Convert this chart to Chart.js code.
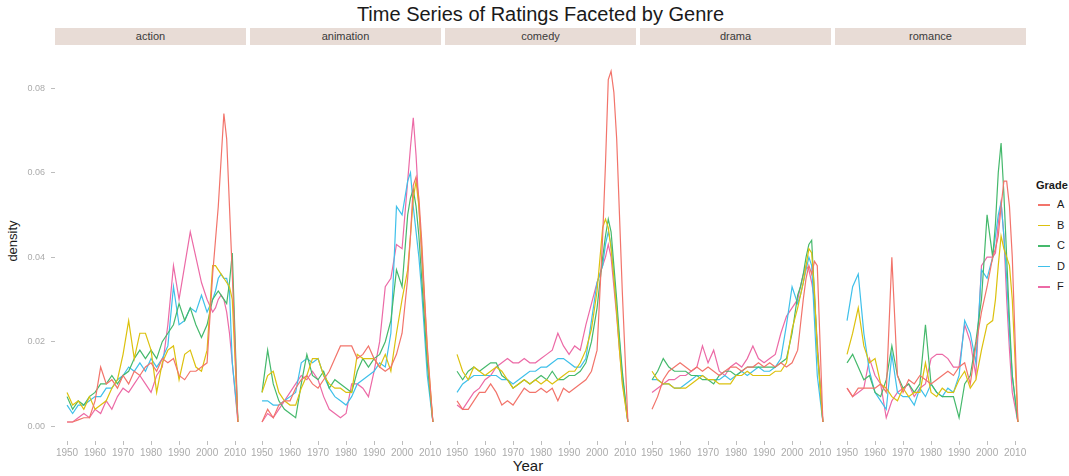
<!DOCTYPE html>
<html><head><meta charset="utf-8">
<script src="https://cdn.jsdelivr.net/npm/chart.js@4.4.1/dist/chart.umd.min.js"></script>
<style>
html,body{margin:0;padding:0;background:#fff;}
#wrap{position:relative;width:1069px;height:476px;overflow:hidden;font-family:"Liberation Sans",Arial,sans-serif;background:#fff;}
#title{position:absolute;top:4px;left:0;width:1081px;text-align:center;font-size:20px;color:#1a1a1a;line-height:20px;}
.strip{position:absolute;top:28px;height:17px;background:#e8dcd6;font-size:11px;color:#3a3a3a;text-align:center;line-height:17px;}
canvas{position:absolute;}
#ylab{position:absolute;left:-17px;top:233px;width:60px;text-align:center;font-size:13px;color:#1a1a1a;transform:rotate(-90deg);line-height:16px;}
#xlab{position:absolute;left:488px;top:458px;width:80px;text-align:center;font-size:15px;color:#1a1a1a;line-height:16px;}
#legend{position:absolute;left:1036px;top:177px;}
#legend .lt{font-size:11px;font-weight:bold;color:#1a1a1a;height:18px;line-height:16px;}
#legend .row{position:relative;height:20.6px;}
#legend .sw{position:absolute;left:2px;top:9px;width:12px;height:1.5px;}
#legend .lb{position:absolute;left:21px;top:3px;font-size:11px;color:#1a1a1a;line-height:12px;}
</style>
</head><body>
<div id="wrap">
  <div id="title">Time Series of Ratings Faceted by Genre</div>
  <div id="ylab">density</div>
  <div id="xlab">Year</div>
  <div id="legend"><div class="lt">Grade</div></div>
</div>
<script>
// ---------------- data ----------------
const years = [1950,1952,1954,1956,1958,1960,1962,1964,1966,1968,1970,1972,1974,1976,1978,1980,1982,1984,1986,1988,1990,1992,1994,1996,1998,2000,2002,2003,2004,2005,2006,2007,2008,2009,2011];
const genres = ['action','animation','comedy','drama','romance'];
const grades = ['A','B','C','D','F'];
const xTicks = [1950,1960,1970,1980,1990,2000,2010];
const yTicks = [0,0.02,0.04,0.06,0.08];

const actionA = [0.001,0.001,0.0015,0.002,0.002,0.006,0.014,0.010,0.011,0.009,0.012,0.010,0.013,0.012,0.014,0.015,0.013,0.016,0.015,0.016,0.012,0.011,0.013,0.013,0.014,0.015,0.036,0.044,0.052,0.063,0.074,0.068,0.052,0.036,0.001];
const actionB = [0.008,0.005,0.006,0.004,0.007,0.004,0.005,0.006,0.009,0.011,0.017,0.025,0.016,0.022,0.022,0.018,0.008,0.015,0.018,0.019,0.011,0.017,0.018,0.014,0.013,0.018,0.038,0.038,0.037,0.036,0.035,0.034,0.033,0.030,0.001];
const actionC = [0.007,0.004,0.006,0.005,0.007,0.008,0.010,0.010,0.012,0.010,0.012,0.013,0.016,0.018,0.016,0.018,0.016,0.020,0.022,0.024,0.029,0.025,0.028,0.024,0.021,0.024,0.030,0.031,0.032,0.031,0.030,0.029,0.034,0.041,0.001];
const actionD = [0.005,0.003,0.005,0.005,0.006,0.007,0.007,0.009,0.009,0.011,0.012,0.014,0.013,0.015,0.013,0.016,0.014,0.016,0.019,0.033,0.024,0.025,0.028,0.027,0.031,0.027,0.030,0.032,0.035,0.036,0.035,0.035,0.032,0.015,0.002];
const actionF = [0.001,0.001,0.002,0.003,0.002,0.004,0.003,0.006,0.004,0.007,0.009,0.008,0.010,0.012,0.010,0.008,0.012,0.014,0.024,0.038,0.030,0.038,0.046,0.040,0.034,0.030,0.027,0.028,0.030,0.031,0.030,0.027,0.022,0.015,0.001];

const animationA = [0.001,0.004,0.002,0.005,0.006,0.006,0.009,0.011,0.012,0.010,0.009,0.011,0.013,0.016,0.019,0.019,0.019,0.016,0.017,0.019,0.016,0.014,0.013,0.014,0.017,0.022,0.035,0.045,0.057,0.059,0.054,0.044,0.031,0.019,0.001];
const animationB = [0.008,0.012,0.013,0.008,0.006,0.005,0.005,0.009,0.012,0.016,0.016,0.012,0.010,0.009,0.009,0.008,0.008,0.017,0.016,0.016,0.016,0.014,0.017,0.013,0.022,0.030,0.037,0.045,0.054,0.058,0.052,0.042,0.030,0.018,0.001];
const animationC = [0.008,0.018,0.010,0.006,0.004,0.003,0.002,0.010,0.017,0.012,0.011,0.013,0.009,0.011,0.010,0.009,0.008,0.013,0.016,0.014,0.016,0.017,0.020,0.025,0.037,0.033,0.050,0.054,0.056,0.052,0.045,0.035,0.025,0.015,0.001];
const animationD = [0.006,0.006,0.005,0.005,0.006,0.007,0.008,0.015,0.016,0.015,0.016,0.012,0.009,0.007,0.006,0.005,0.007,0.010,0.011,0.012,0.013,0.015,0.014,0.022,0.052,0.050,0.058,0.060,0.052,0.046,0.040,0.032,0.022,0.012,0.001];
const animationF = [0.001,0.003,0.002,0.004,0.006,0.008,0.010,0.012,0.011,0.013,0.011,0.007,0.004,0.003,0.002,0.003,0.010,0.010,0.009,0.007,0.013,0.020,0.033,0.035,0.043,0.042,0.058,0.066,0.073,0.064,0.052,0.040,0.028,0.016,0.001];

const comedyA = [0.006,0.004,0.004,0.006,0.008,0.008,0.010,0.008,0.005,0.006,0.005,0.007,0.009,0.008,0.008,0.009,0.008,0.009,0.006,0.009,0.008,0.009,0.010,0.011,0.013,0.018,0.045,0.062,0.082,0.084,0.079,0.068,0.050,0.032,0.001];
const comedyB = [0.017,0.013,0.011,0.014,0.013,0.012,0.013,0.014,0.013,0.011,0.009,0.010,0.011,0.010,0.011,0.010,0.011,0.010,0.011,0.012,0.013,0.013,0.015,0.018,0.023,0.032,0.047,0.049,0.047,0.042,0.035,0.027,0.018,0.010,0.001];
const comedyC = [0.013,0.011,0.013,0.014,0.013,0.014,0.015,0.015,0.012,0.011,0.009,0.010,0.011,0.010,0.011,0.012,0.011,0.013,0.011,0.011,0.012,0.012,0.013,0.015,0.020,0.028,0.040,0.045,0.049,0.046,0.038,0.030,0.021,0.013,0.001];
const comedyD = [0.008,0.010,0.011,0.012,0.012,0.012,0.012,0.012,0.011,0.011,0.010,0.011,0.012,0.013,0.013,0.014,0.014,0.015,0.016,0.016,0.015,0.014,0.014,0.016,0.025,0.034,0.038,0.043,0.046,0.043,0.036,0.028,0.020,0.012,0.001];
const comedyF = [0.005,0.004,0.006,0.008,0.009,0.011,0.012,0.014,0.015,0.016,0.015,0.015,0.016,0.015,0.015,0.016,0.017,0.018,0.022,0.019,0.017,0.019,0.018,0.024,0.029,0.034,0.038,0.040,0.043,0.040,0.033,0.026,0.018,0.011,0.001];

const dramaA = [0.004,0.007,0.011,0.013,0.014,0.015,0.014,0.013,0.014,0.013,0.014,0.013,0.012,0.013,0.014,0.014,0.013,0.014,0.014,0.015,0.014,0.015,0.014,0.015,0.014,0.015,0.018,0.024,0.030,0.035,0.038,0.036,0.039,0.038,0.001];
const dramaB = [0.013,0.011,0.010,0.010,0.009,0.009,0.009,0.010,0.011,0.012,0.011,0.011,0.010,0.010,0.010,0.012,0.012,0.013,0.012,0.012,0.012,0.012,0.013,0.013,0.015,0.023,0.028,0.031,0.034,0.038,0.042,0.041,0.032,0.018,0.001];
const dramaC = [0.011,0.013,0.016,0.014,0.013,0.013,0.013,0.012,0.012,0.011,0.011,0.010,0.012,0.013,0.013,0.012,0.013,0.014,0.014,0.014,0.014,0.014,0.014,0.015,0.016,0.022,0.031,0.033,0.036,0.040,0.043,0.044,0.031,0.018,0.001];
const dramaD = [0.011,0.011,0.010,0.010,0.009,0.009,0.010,0.011,0.012,0.012,0.011,0.011,0.011,0.012,0.011,0.012,0.013,0.012,0.013,0.014,0.013,0.013,0.014,0.016,0.024,0.033,0.029,0.031,0.034,0.037,0.040,0.038,0.025,0.012,0.001];
const dramaF = [0.008,0.009,0.010,0.011,0.011,0.012,0.012,0.013,0.014,0.019,0.015,0.018,0.013,0.012,0.014,0.015,0.014,0.016,0.019,0.016,0.015,0.016,0.017,0.022,0.026,0.028,0.030,0.033,0.036,0.038,0.037,0.034,0.030,0.020,0.001];

const romanceA = [0.009,0.007,0.009,0.009,0.009,0.009,0.010,0.008,0.040,0.012,0.008,0.011,0.010,0.012,0.011,0.010,0.011,0.012,0.013,0.012,0.014,0.015,0.010,0.019,0.027,0.033,0.040,0.042,0.045,0.052,0.058,0.058,0.052,0.040,0.001];
const romanceB = [0.017,0.022,0.028,0.019,0.015,0.016,0.010,0.009,0.007,0.006,0.009,0.007,0.008,0.008,0.015,0.008,0.007,0.009,0.008,0.008,0.011,0.013,0.009,0.011,0.018,0.024,0.025,0.030,0.038,0.045,0.042,0.040,0.038,0.030,0.001];
const romanceC = [0.015,0.017,0.014,0.011,0.012,0.008,0.007,0.011,0.019,0.012,0.009,0.010,0.008,0.010,0.024,0.010,0.008,0.007,0.007,0.007,0.002,0.010,0.012,0.020,0.030,0.050,0.040,0.048,0.060,0.067,0.055,0.040,0.025,0.012,0.001];
const romanceD = [0.025,0.033,0.036,0.022,0.013,0.008,0.006,0.004,0.017,0.008,0.007,0.007,0.005,0.009,0.007,0.010,0.008,0.007,0.009,0.008,0.012,0.025,0.022,0.015,0.037,0.035,0.040,0.045,0.050,0.053,0.045,0.035,0.022,0.012,0.001];
const romanceF = [0.009,0.007,0.008,0.009,0.016,0.012,0.010,0.002,0.006,0.008,0.009,0.010,0.007,0.009,0.010,0.016,0.017,0.017,0.016,0.014,0.014,0.024,0.020,0.012,0.038,0.040,0.040,0.041,0.048,0.053,0.045,0.030,0.018,0.008,0.001];

const seriesByGenre = {
  action:    [actionA, actionB, actionC, actionD, actionF],
  animation: [animationA, animationB, animationC, animationD, animationF],
  comedy:    [comedyA, comedyB, comedyC, comedyD, comedyF],
  drama:     [dramaA, dramaB, dramaC, dramaD, dramaF],
  romance:   [romanceA, romanceB, romanceC, romanceD, romanceF]
};

// ---------------- style / layout ----------------
const gradeColors = ['#f2746b','#dcc10e','#45b96c','#3fc0ea','#ec6aa6'];
const PANEL_W = 191, PANEL_STEP = 195, PANEL_L0 = 55;
const PLOT_TOP = 45, PLOT_H = 396, XAXIS_H = 24, YAXIS_W = 55;
const X_MIN = 1945.7, X_MAX = 2013.9;
const Y_MIN = -0.0035, Y_MAX = 0.0902;
const tickColor = '#bdbdbd', labelColor = '#ababab';

const wrap = document.getElementById('wrap');

// legend
const leg = document.getElementById('legend');
grades.forEach((g, k) => {
  const row = document.createElement('div'); row.className = 'row';
  const sw = document.createElement('div'); sw.className = 'sw'; sw.style.background = gradeColors[k];
  const lb = document.createElement('div'); lb.className = 'lb'; lb.textContent = g;
  row.appendChild(sw); row.appendChild(lb); leg.appendChild(row);
});

function zeroPad(s){ s.paddingLeft = 0; s.paddingRight = 0; s.paddingTop = 0; s.paddingBottom = 0; }

genres.forEach((genre, i) => {
  const left = PANEL_L0 + i * PANEL_STEP;
  const strip = document.createElement('div');
  strip.className = 'strip';
  strip.style.left = left + 'px';
  strip.style.width = PANEL_W + 'px';
  strip.textContent = genre;
  wrap.appendChild(strip);

  const first = (i === 0);
  const cv = document.createElement('canvas');
  const cw = PANEL_W + (first ? YAXIS_W : 0);
  const ch = PLOT_H + XAXIS_H;
  cv.width = cw; cv.height = ch;
  cv.style.left = (first ? 0 : left) + 'px';
  cv.style.top = PLOT_TOP + 'px';
  wrap.appendChild(cv);

  const vals = seriesByGenre[genre];
  new Chart(cv, {
    type: 'line',
    data: {
      datasets: grades.map((g, k) => ({
        label: g,
        data: years.map((yr, j) => ({ x: yr, y: vals[k][j] })),
        borderColor: gradeColors[k],
        backgroundColor: gradeColors[k],
        borderWidth: 1.2,
        pointRadius: 0,
        tension: 0,
        fill: false
      }))
    },
    options: {
      responsive: false,
      animation: false,
      devicePixelRatio: 1,
      events: [],
      layout: { padding: 0 },
      plugins: { legend: { display: false }, tooltip: { enabled: false }, title: { display: false } },
      scales: {
        x: {
          type: 'linear', min: X_MIN, max: X_MAX, bounds: 'data',
          afterBuildTicks: s => { s.ticks = xTicks.map(v => ({ value: v })); },
          afterFit: s => { s.height = XAXIS_H; zeroPad(s); },
          ticks: { autoSkip: false, maxRotation: 0, minRotation: 0, padding: 2, color: labelColor,
                   font: { family: 'Liberation Sans', size: 10 }, callback: v => String(v) },
          grid: { drawOnChartArea: false, drawTicks: true, tickLength: 4, tickColor: tickColor },
          border: { display: false }
        },
        y: {
          type: 'linear', display: first, min: Y_MIN, max: Y_MAX, bounds: 'data',
          afterBuildTicks: s => { s.ticks = yTicks.map(v => ({ value: v })); },
          afterFit: s => { s.width = first ? YAXIS_W : 0; zeroPad(s); },
          ticks: { padding: 6, color: labelColor, font: { family: 'Liberation Sans', size: 9 },
                   callback: v => Number(v).toFixed(2) },
          grid: { drawOnChartArea: false, drawTicks: true, tickLength: 4, tickColor: tickColor },
          border: { display: false }
        }
      }
    }
  });
});
</script>
</body></html>
